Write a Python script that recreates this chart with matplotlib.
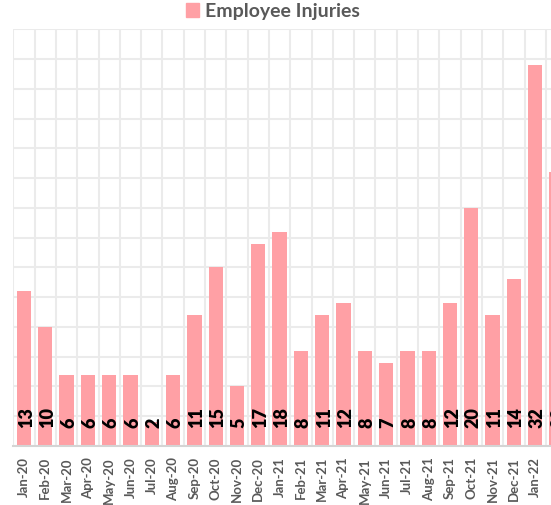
import matplotlib
matplotlib.use("Agg")
import matplotlib.pyplot as plt
from matplotlib.patches import Patch

months = ["Jan-20", "Feb-20", "Mar-20", "Apr-20", "May-20", "Jun-20", "Jul-20", "Aug-20",
          "Sep-20", "Oct-20", "Nov-20", "Dec-20", "Jan-21", "Feb-21", "Mar-21", "Apr-21",
          "May-21", "Jun-21", "Jul-21", "Aug-21", "Sep-21", "Oct-21", "Nov-21", "Dec-21",
          "Jan-22", "Feb-22"]
injuries = [13, 10, 6, 6, 6, 6, 2, 6, 11, 15, 5, 17, 18, 8, 11, 12, 8, 7, 8, 8, 12, 20, 11, 14, 32, 23]

bar_color = "#FFA0A5"
text_grey = "#595959"
font = "Lato"

W, H = 551, 505
fig = plt.figure(figsize=(W / 100, H / 100), dpi=100)
left_px, top_px, bottom_px = 13.35, 29.3, 446
step = 21.3
ax = fig.add_axes([left_px / W, (H - bottom_px) / H, len(months) * step / W, (bottom_px - top_px) / H])

x = list(range(len(months)))
ax.bar(x, injuries, width=0.67, color=bar_color, zorder=2)
ax.set_xlim(-0.5, len(months) - 0.5)
ax.set_ylim(0, 35)

# grid
ax.set_yticks([i * 2.5 for i in range(15)])
ax.set_xticks([i - 0.5 for i in range(len(months) + 1)], minor=True)
ax.grid(True, axis="y", color="#EBEBEB", linewidth=1.5, zorder=0)
ax.grid(True, axis="x", which="minor", color="#EBEBEB", linewidth=1.5, zorder=0)
ax.tick_params(axis="y", left=False, labelleft=False)
ax.tick_params(axis="x", which="both", length=0)
for s in ["top", "right", "left"]:
    ax.spines[s].set_visible(False)
ax.spines["bottom"].set_color("#D4D4D4")
ax.spines["bottom"].set_linewidth(1.5)
ax.spines["bottom"].set_zorder(3)

ax.set_xticks(x)
ax.set_xticklabels(months, rotation=90, fontsize=9.5, fontweight="bold", color=text_grey, family=font)
ax.tick_params(axis="x", pad=8)

for xi, v in zip(x, injuries):
    ax.text(xi + 0.1, 1.5, str(v), rotation=90, ha="center", va="bottom",
            fontsize=13, fontweight="heavy", color="black", family=font, zorder=4)

fig.legend(handles=[Patch(color=bar_color, label="Employee Injuries")], loc="center",
           bbox_to_anchor=(273 / W, 1 - 11 / H), frameon=False,
           prop={"family": font, "weight": "bold", "size": 14},
           handlelength=0.7, handleheight=0.7, handletextpad=0.3, labelcolor=text_grey)

fig.savefig("out.png", dpi=100)
